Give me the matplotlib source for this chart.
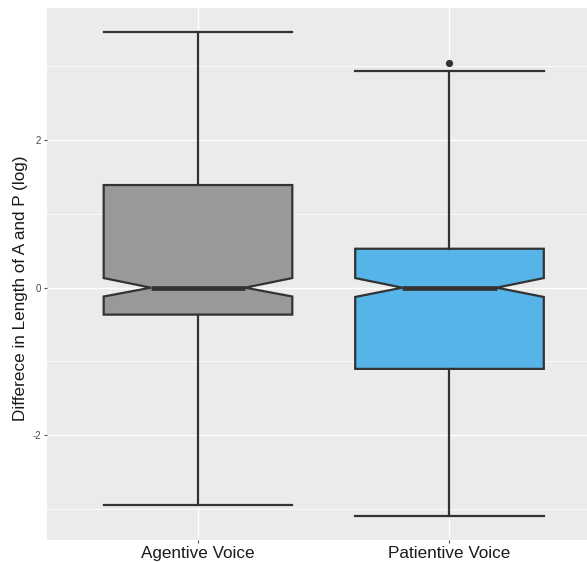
import matplotlib
matplotlib.use("Agg")
import matplotlib.pyplot as plt

plt.rcParams["font.family"] = ["Liberation Sans", "DejaVu Sans"]

# Summary statistics per voice (log length difference A - P)
groups = ["Agentive Voice", "Patientive Voice"]
q1 = [-0.365, -1.10]
medians = [0.0, 0.0]
q3 = [1.39, 0.527]
whisker_low = [-2.95, -3.09]
whisker_high = [3.46, 2.94]
notch_low = [-0.12, -0.126]
notch_high = [0.13, 0.13]
outliers = [[], [3.045]]
fills = ["#999999", "#56B4E9"]

yticks = [-2, 0, 2]
yminor = [-3, -1, 1, 3]

W, H, DPI = 587, 562, 100
fig = plt.figure(figsize=(W / DPI, H / DPI), dpi=DPI)
ax = fig.add_axes([47.1 / W, (H - 540) / H, (600.4 - 47.1) / W, 532 / H])
ax.set_facecolor("#EBEBEB")

stats = []
for i, g in enumerate(groups):
    stats.append(dict(label=g, q1=q1[i], med=medians[i], q3=q3[i],
                      whislo=whisker_low[i], whishi=whisker_high[i],
                      cilo=notch_low[i], cihi=notch_high[i],
                      fliers=outliers[i]))

edge = "#333333"
bp = ax.bxp(stats, positions=[1, 2], widths=0.75, capwidths=0.75,
            shownotches=True, patch_artist=True,
            boxprops=dict(edgecolor=edge, linewidth=1.6),
            whiskerprops=dict(color=edge, linewidth=1.6),
            capprops=dict(color=edge, linewidth=1.6),
            medianprops=dict(color=edge, linewidth=3.4, solid_capstyle="butt"),
            flierprops=dict(marker="o", markersize=4.2, markerfacecolor=edge,
                            markeredgecolor=edge))
for patch, c in zip(bp["boxes"], fills):
    patch.set_facecolor(c)

ax.set_xlim(0.4, 2.6)
ax.set_ylim(-3.4175, 3.7875)

ax.set_yticks(yticks)
ax.set_yticklabels([str(t) for t in yticks])
ax.set_yticks(yminor, minor=True)
ax.set_xticks([1, 2])
ax.set_xticklabels(groups)

ax.grid(which="major", color="white", linewidth=1.0)
ax.grid(which="minor", axis="y", color="white", linewidth=0.5)
ax.set_axisbelow(True)
for s in ax.spines.values():
    s.set_visible(False)

ax.tick_params(axis="y", which="major", length=2.5, width=0.8, color="#4D4D4D",
               labelsize=7, labelcolor="#4D4D4D", pad=2)
ax.tick_params(axis="x", which="major", length=2.5, width=0.8, color="#4D4D4D",
               labelsize=12.3, labelcolor="#1A1A1A", pad=2)
ax.tick_params(which="minor", length=0)

fig.text(21 / W, 1 - 288 / H, "Differece in Length of A and P (log)",
         rotation=90, ha="center", va="center", fontsize=12.3, color="#1A1A1A")

fig.savefig("out.png", dpi=DPI)
